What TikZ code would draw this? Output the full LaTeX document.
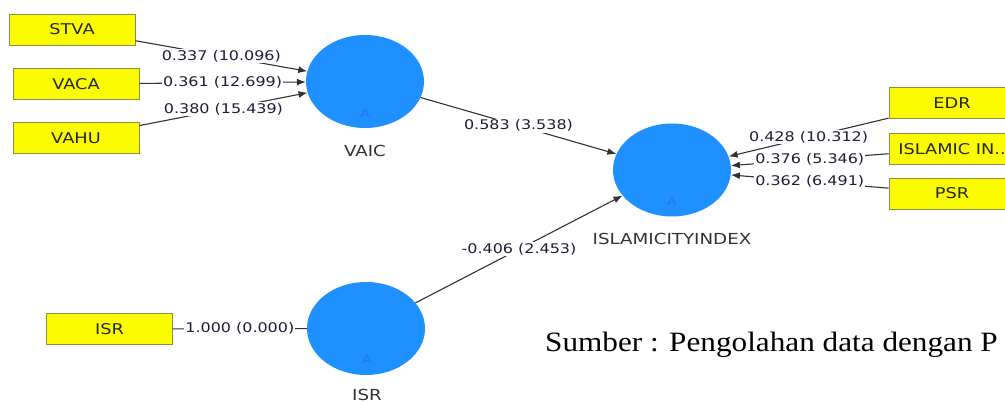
\documentclass[tikz,border=0pt]{standalone}
\usepackage{fontspec}
\usetikzlibrary{shapes.geometric,arrows.meta}
\newfontfamily\dvw[FakeStretch=1.2]{DejaVu Sans}
\newfontfamily\tnrw[FakeStretch=1.115]{Liberation Serif}
\definecolor{lvblue}{RGB}{30,144,255}
\definecolor{amark}{RGB}{45,115,225}
\definecolor{boxyellow}{RGB}{252,252,0}
\definecolor{boxline}{RGB}{140,140,70}
\definecolor{linegray}{RGB}{50,50,50}
\definecolor{lbltext}{RGB}{30,30,55}
\begin{document}
\begin{tikzpicture}[x=1pt,y=-1pt,
  latent/.style={ellipse,fill=lvblue,draw=none,minimum width=118pt,minimum height=93pt,inner sep=0pt},
  indic/.style={rectangle,fill=boxyellow,draw=boxline,line width=0.8pt,minimum width=126pt,minimum height=31pt,inner sep=0pt,font=\dvw\fontsize{14.8}{16}\selectfont,text=black!85},
  lvname/.style={font=\dvw\fontsize{15.2}{17}\selectfont,text=black!80},
  amk/.style={font=\dvw\fontsize{11}{12}\selectfont,text=amark},
  lbl/.style={fill=white,inner sep=1pt,font=\dvw\fontsize{13.3}{15}\selectfont,text=lbltext},
  conn/.style={draw=linegray,line width=1.1pt},
  arr/.style={conn,-{Latex[length=9pt,width=7pt]}}]
\useasboundingbox (0,0) rectangle (1005,403);
% latent variables
\node[latent] (vaic) at (365,81.5) {};
\node[latent] (isi) at (672,170) {};
\node[latent] (isr) at (366,328.5) {};
\node[amk] (avaic) at (365,113) {A};
\node[amk] (aisi) at (672,201) {A};
\node[amk] (aisr) at (367,359) {A};
\node[lvname] (nvaic) at (365,151) {VAIC};
\node[lvname] (nisi) at (672,239) {ISLAMICITYINDEX};
\node[lvname] (nisr) at (367,395) {ISR};
% indicators
\node[indic] (stva) at (72,29.5) {STVA};
\node[indic] (vaca) at (76,84) {VACA};
\node[indic] (vahu) at (76,138) {VAHU};
\node[indic] (edr) at (952,103) {EDR};
\node[indic] (islin) at (952,149) {ISLAMIC IN..};
\node[indic] (psr) at (952,193.5) {PSR};
\node[indic] (isrb) at (109.5,329) {ISR};
% connectors
\draw[arr] (stva) -- node[lbl] {0.337 (10.096)} (vaic);
\draw[arr] (vaca) -- node[lbl] {0.361 (12.699)} (vaic);
\draw[arr] (vahu) -- node[lbl] {0.380 (15.439)} (vaic);
\draw[arr] (edr) -- node[lbl] {0.428 (10.312)} (isi);
\draw[arr] (islin) -- node[lbl] {0.376 (5.346)} (isi);
\draw[arr] (psr) -- node[lbl] {0.362 (6.491)} (isi);
\draw[conn] (isrb) -- node[lbl] {1.000 (0.000)} (isr);
\draw[arr] (vaic) -- node[lbl] {0.583 (3.538)} (isi);
\draw[arr] (isr) -- node[lbl] {-0.406 (2.453)} (isi);
% source note
\node[anchor=base west,inner sep=0pt,font=\tnrw\fontsize{28}{31}\selectfont] (src) at (545,352) {Sumber : Pengolahan data dengan P};
\end{tikzpicture}
\end{document}
